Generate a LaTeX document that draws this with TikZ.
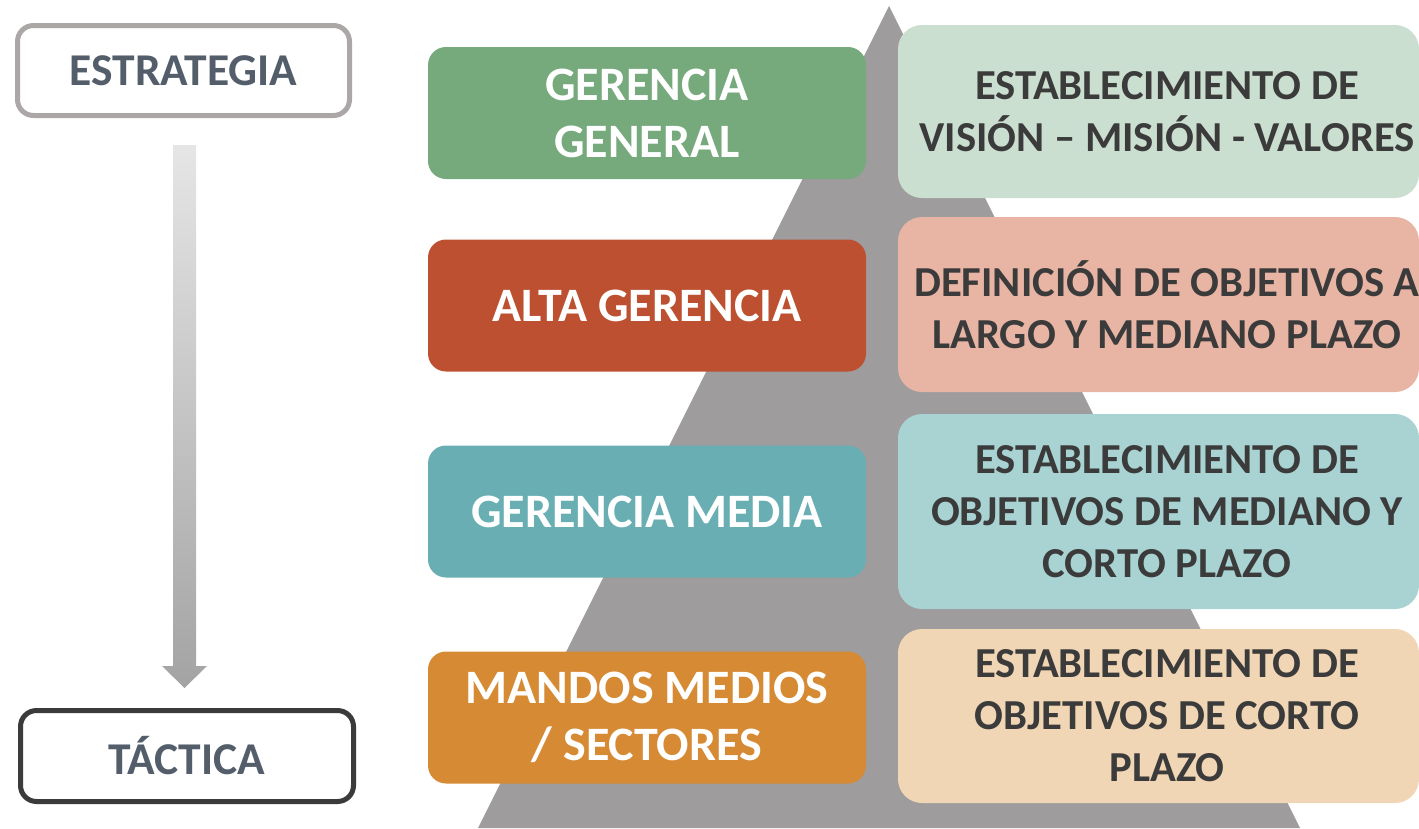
\documentclass[tikz,border=0pt]{standalone}
\usepackage{fontspec}
\setmainfont{Carlito}
\definecolor{cGreen}{HTML}{76A97C}
\definecolor{cRed}{HTML}{BC5030}
\definecolor{cTeal}{HTML}{68AEB2}
\definecolor{cOrange}{HTML}{D68A33}
\definecolor{lGreen}{HTML}{CBDFD1}
\definecolor{lRed}{HTML}{E8B5A5}
\definecolor{lTeal}{HTML}{A9D3D3}
\definecolor{lOrange}{HTML}{F1D6B5}
\definecolor{cTri}{HTML}{9E9C9D}
\definecolor{cTitle}{HTML}{545E6B}
\definecolor{cDark}{HTML}{3B3B3B}
\definecolor{cBorderA}{HTML}{ABA7A7}
\definecolor{cBorderB}{HTML}{3B3B3B}
\begin{document}
\begin{tikzpicture}[x=1pt,y=-1pt,
  lbox/.style={rounded corners=18pt, minimum width=438pt, minimum height=132pt, inner sep=0pt,
    text=white, font=\bfseries\fontsize{48}{57}\selectfont, align=center},
  rbox/.style={rounded corners=24pt, minimum width=521pt, inner sep=0pt},
  rtext/.style={text=cDark, font=\bfseries\fontsize{42.7}{52}\selectfont, align=center, inner sep=0pt},
  titlebox/.style={rounded corners=16pt, line width=5pt, fill=white, inner sep=0pt,
    text=cTitle, font=\bfseries\fontsize{45.5}{52}\selectfont}
]
\useasboundingbox (0,0) rectangle (1419,828);
% pyramid
\fill[cTri] (889,6) -- (1300,828) -- (478,828) -- cycle;
% left boxes
\node[lbox, fill=cGreen] (gg) at (647,113) {GERENCIA\\GENERAL};
\node[lbox, fill=cRed] (ag) at (647,305.5) {ALTA GERENCIA};
\node[lbox, fill=cTeal] (gm) at (647,511.5) {GERENCIA MEDIA};
\node[lbox, fill=cOrange] (mm) at (647,717.5) {MANDOS MEDIOS\\/ SECTORES};
% right boxes
\node[rbox, fill=lGreen, minimum height=173pt] (r1) at (1158.5,111.5) {};
\node[rbox, fill=lRed, minimum height=175pt] (r2) at (1158.5,304.5) {};
\node[rbox, fill=lTeal, minimum height=195pt] (r3) at (1158.5,511.5) {};
\node[rbox, fill=lOrange, minimum height=174pt] (r4) at (1158.5,716) {};
\node[rtext] (t1) at ([xshift=8.5pt]r1.center) {ESTABLECIMIENTO DE\\VISIÓN – MISIÓN - VALORES};
\node[rtext] (t2) at ([xshift=8.5pt]r2.center) {DEFINICIÓN DE OBJETIVOS A\\LARGO Y MEDIANO PLAZO};
\node[rtext] (t3) at ([xshift=8.5pt]r3.center) {ESTABLECIMIENTO DE\\OBJETIVOS DE MEDIANO Y\\CORTO PLAZO};
\node[rtext] (t4) at ([xshift=8.5pt]r4.center) {ESTABLECIMIENTO DE\\OBJETIVOS DE CORTO\\PLAZO};
% strategy / tactic
\node[titlebox, draw=cBorderA, minimum width=332pt, minimum height=90pt] (est) at (183.5,70.5) {ESTRATEGIA};
\node[titlebox, draw=cBorderB, minimum width=333pt, minimum height=91pt] (tac) at (187,756) {TÁCTICA};
% block arrow
\shade[top color=black!10, bottom color=black!36]
  (173,145) -- (196,145) -- (196,666) -- (207,666) -- (184.5,688) -- (162,666) -- (173,666) -- cycle;
\end{tikzpicture}
\end{document}
